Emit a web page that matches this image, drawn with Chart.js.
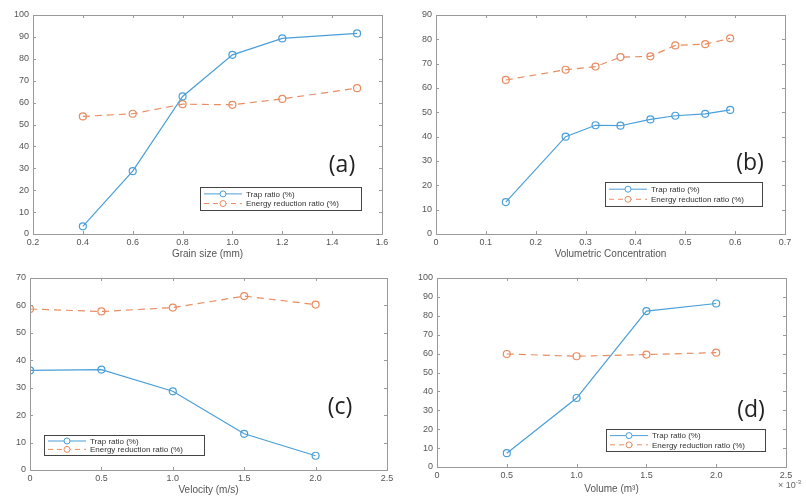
<!DOCTYPE html>
<html lang="en">
<head>
  <meta charset="UTF-8">
  <script src="https://cdn.jsdelivr.net/npm/chart.js"></script>
  <title>Trap ratio and energy reduction ratio</title>
  <style>
    html, body { margin: 0; padding: 0; background: #fff; }
    body { width: 806px; height: 503px; position: relative; overflow: hidden; }
    .panel { position: absolute; }
    .exp { position: absolute; left: 778px; top: 479px; font: 9px "Liberation Sans", Arial, sans-serif; color: #666; }
    .exp sup { font-size: 6px; }
  </style>
</head>
<body>
  <div class="panel" style="left:0;top:0;width:403px;height:260px"><canvas id="chartA"></canvas></div>
  <div class="panel" style="left:403px;top:0;width:403px;height:260px"><canvas id="chartB"></canvas></div>
  <div class="panel" style="left:0;top:260px;width:403px;height:243px"><canvas id="chartC"></canvas></div>
  <div class="panel" style="left:403px;top:260px;width:403px;height:243px"><canvas id="chartD"></canvas></div>
  <div class="exp">&times; 10<sup>-3</sup></div>

<script>
  // (a) grain size
  const grainSize = [0.4, 0.6, 0.8, 1.0, 1.2, 1.5]
  const grainTrap = [3.5, 28.7, 62.8, 81.8, 89.3, 91.6]
  const grainEnergy = [53.7, 54.9, 59.3, 59.0, 61.7, 66.6]

  // (b) volumetric concentration
  const concentration = [0.14, 0.26, 0.32, 0.37, 0.43, 0.48, 0.54, 0.59]
  const concTrap = [13.1, 40.0, 44.7, 44.5, 47.1, 48.6, 49.4, 51.0]
  const concEnergy = [63.3, 67.5, 68.8, 72.7, 73.0, 77.5, 78.0, 80.4]

  // (c) velocity
  const velocity = [0, 0.5, 1.0, 1.5, 2.0]
  const velTrap = [36.3, 36.6, 28.7, 13.2, 5.2]
  const velEnergy = [58.7, 57.8, 59.2, 63.4, 60.3]

  // (d) volume (x 10^-3 m3)
  const volume = [0.5, 1.0, 1.5, 2.0]
  const volTrap = [7.3, 36.5, 82.5, 86.5]
  const volEnergy = [59.8, 58.6, 59.5, 60.5]

  const seriesNames = ['Trap ratio (%)', 'Energy reduction ratio (%)']

  const BLUE = '#4a9fd8'
  const ORANGE = '#e98c62'
  const AXIS = '#9a9a9a'
  const TEXT = '#555'
  const FONT = '"Liberation Sans", Arial, sans-serif'

  const toPoints = (xs, ys) => xs.map((x, i) => ({ x: x, y: ys[i] }))

  // box, inward ticks on all sides, the (a)-(d) tag and the legend box
  const matlabLook = {
    id: 'matlabLook',
    afterDatasetsDraw(chart, args, opts) {
      const { ctx, chartArea: a, scales } = chart
      ctx.save()
      ctx.strokeStyle = AXIS
      ctx.lineWidth = 1
      ctx.setLineDash([])
      ctx.strokeRect(Math.round(a.left) + 0.5, Math.round(a.top) + 0.5,
        Math.round(a.right - a.left), Math.round(a.bottom - a.top))
      ctx.beginPath()
      scales.x.ticks.forEach(t => {
        const px = Math.round(scales.x.getPixelForValue(t.value)) + 0.5
        ctx.moveTo(px, a.bottom); ctx.lineTo(px, a.bottom - 3)
        ctx.moveTo(px, a.top); ctx.lineTo(px, a.top + 3)
      })
      scales.y.ticks.forEach(t => {
        const py = Math.round(scales.y.getPixelForValue(t.value)) + 0.5
        ctx.moveTo(a.left, py); ctx.lineTo(a.left + 3, py)
        ctx.moveTo(a.right, py); ctx.lineTo(a.right - 3, py)
      })
      ctx.stroke()

      // panel tag
      ctx.fillStyle = '#222'
      ctx.font = '23px "Open Sans", sans-serif'
      ctx.textAlign = 'center'
      ctx.textBaseline = 'middle'
      ctx.fillText(opts.tag, opts.tagX, opts.tagY)

      // legend
      const [lx, ly, lw, lh] = opts.legend
      ctx.fillStyle = '#fff'
      ctx.fillRect(lx, ly, lw, lh)
      ctx.strokeStyle = '#444'
      ctx.strokeRect(lx + 0.5, ly + 0.5, lw, lh)
      const rows = [ly + lh * 0.3, ly + lh * 0.72]
      const colors = [BLUE, ORANGE]
      ctx.font = '8px ' + FONT
      ctx.textAlign = 'left'
      rows.forEach((ry, i) => {
        ctx.strokeStyle = colors[i]
        ctx.setLineDash(i === 0 ? [] : [5, 4])
        ctx.beginPath()
        ctx.moveTo(lx + 4, ry); ctx.lineTo(lx + 42, ry)
        ctx.stroke()
        ctx.setLineDash([])
        ctx.beginPath()
        ctx.arc(lx + 23, ry, 3, 0, Math.PI * 2)
        ctx.fillStyle = '#fff'
        ctx.fill()
        ctx.stroke()
        ctx.fillStyle = '#333'
        ctx.fillText(seriesNames[i], lx + 46, ry + 0.5)
      })
      ctx.restore()
    }
  }

  function makeChart(id, cfg) {
    const el = document.getElementById(id)
    el.width = cfg.w
    el.height = cfg.h
    return new Chart(el, {
      type: 'line',
      data: {
        datasets: [{
          label: seriesNames[0],
          data: toPoints(cfg.xs, cfg.trap),
          borderColor: BLUE,
          borderWidth: 1.2,
          pointRadius: 3.5,
          pointBorderWidth: 1.2,
          pointBackgroundColor: 'rgba(255,255,255,0)',
          pointBorderColor: BLUE
        }, {
          label: seriesNames[1],
          data: toPoints(cfg.xs, cfg.energy),
          borderColor: ORANGE,
          borderWidth: 1.2,
          borderDash: [7, 5],
          pointRadius: 3.5,
          pointBorderWidth: 1.2,
          pointBackgroundColor: 'rgba(255,255,255,0)',
          pointBorderColor: ORANGE
        }]
      },
      options: {
        responsive: false,
        animation: false,
        layout: { padding: { top: cfg.pad.top, right: cfg.pad.right, left: 0, bottom: 0 } },
        plugins: {
          legend: { display: false },
          tooltip: { enabled: false },
          matlabLook: { tag: cfg.tag, tagX: cfg.tagX, tagY: cfg.tagY, legend: cfg.legend }
        },
        scales: {
          x: {
            type: 'linear',
            min: cfg.xmin, max: cfg.xmax,
            afterFit: s => { s.height = cfg.xh },
            border: { display: false },
            grid: { display: false, drawTicks: false, tickLength: 0 },
            ticks: {
              stepSize: cfg.xstep, color: TEXT, padding: 3,
              font: { family: FONT, size: 9 },
              maxRotation: 0, autoSkip: false
            },
            title: {
              display: true, text: cfg.xtitle, color: TEXT, padding: { top: 0, bottom: cfg.titleBottom },
              font: { family: FONT, size: 10 }
            }
          },
          y: {
            min: 0, max: cfg.ymax,
            afterFit: s => { s.width = cfg.yw },
            border: { display: false },
            grid: { display: false, drawTicks: false, tickLength: 0 },
            ticks: {
              stepSize: 10, color: TEXT, padding: 4,
              font: { family: FONT, size: 9 }
            }
          }
        }
      },
      plugins: [matlabLook]
    })
  }

  makeChart('chartA', {
    w: 403, h: 260, xs: grainSize, trap: grainTrap, energy: grainEnergy,
    xmin: 0.2, xmax: 1.6, xstep: 0.2, ymax: 100, xtitle: 'Grain size (mm)',
    yw: 33, xh: 26, titleBottom: 0, pad: { top: 15, right: 21 },
    tag: '(a)', tagX: 342, tagY: 165, legend: [200, 187, 161, 23]
  })

  makeChart('chartB', {
    w: 403, h: 260, xs: concentration, trap: concTrap, energy: concEnergy,
    xmin: 0, xmax: 0.7, xstep: 0.1, ymax: 90, xtitle: 'Volumetric Concentration',
    yw: 33, xh: 26, titleBottom: 0, pad: { top: 15, right: 21 },
    tag: '(b)', tagX: 347, tagY: 163, legend: [202, 182, 157, 24]
  })

  makeChart('chartC', {
    w: 403, h: 243, xs: velocity, trap: velTrap, energy: velEnergy,
    xmin: 0, xmax: 2.5, xstep: 0.5, ymax: 70, xtitle: 'Velocity (m/s)',
    yw: 30, xh: 33, titleBottom: 7, pad: { top: 18, right: 16 },
    tag: '(c)', tagX: 340, tagY: 147, legend: [44, 175, 160, 20]
  })

  makeChart('chartD', {
    w: 403, h: 243, xs: volume, trap: volTrap, energy: volEnergy,
    xmin: 0, xmax: 2.5, xstep: 0.5, ymax: 100, xtitle: 'Volume (m\u00b3)',
    yw: 34, xh: 36, titleBottom: 8, pad: { top: 18, right: 20 },
    tag: '(d)', tagX: 348, tagY: 150, legend: [203, 169, 159, 22]
  })
</script>
</body>
</html>
